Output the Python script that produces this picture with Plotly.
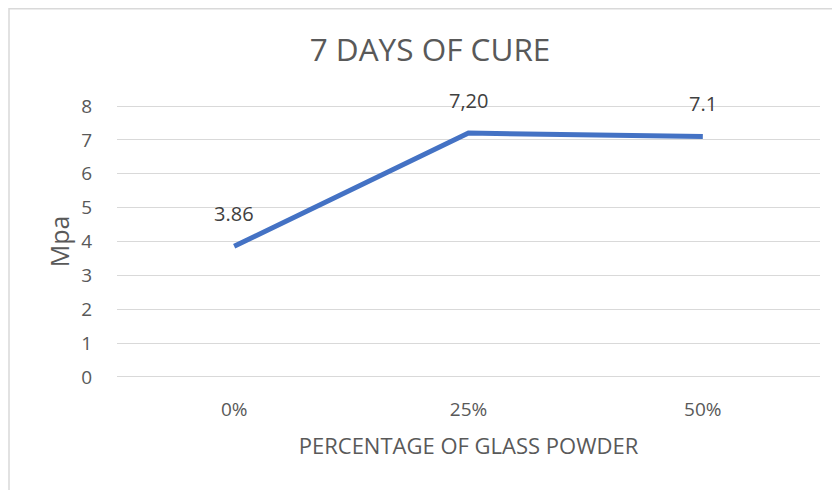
import plotly.graph_objects as go

categories = ["0%", "25%", "50%"]
values = [3.86, 7.20, 7.1]
value_labels = ["3.86", "7,20", "7.1"]
y_ticks = [0, 1, 2, 3, 4, 5, 6, 7, 8]

# the page body adds an 8px offset; figure coords = page coords - 8
W, H = 840, 490
L, R, T, B = 109, 28, 97, 120
pw, ph = W - L - R, H - T - B
FONT = "Open Sans, sans-serif"

def px_x(p):
    return (p - L) / pw

def px_y(p):
    return (H - B - p) / ph

fig = go.Figure()
fig.add_trace(go.Scatter(
    x=categories, y=values, mode="lines",
    line=dict(color="#4472C4", width=5),
    hoverinfo="skip", showlegend=False,
))

for c, v, t in zip(categories, values, value_labels):
    fig.add_annotation(x=c, y=v, text=t, showarrow=False, yshift=33,
                       font=dict(size=20, color="#404040", family=FONT))

# chart border (left and top visible)
fig.add_shape(type="rect", xref="paper", yref="paper",
              x0=px_x(1), x1=px_x(880), y0=px_y(530), y1=px_y(0.8),
              line=dict(color="#d9d9d9", width=1.5), layer="below")

fig.update_layout(
    width=W, height=H,
    margin=dict(l=L, r=R, t=T, b=B, autoexpand=False),
    paper_bgcolor="white", plot_bgcolor="white",
    title=dict(text="7 DAYS OF CURE", x=422 / W, xref="container", xanchor="center",
               y=1 - 42 / H, yref="container", yanchor="middle",
               font=dict(size=31.5, color="#595959", family=FONT)),
    font=dict(family=FONT, color="#595959", size=19),
    xaxis=dict(
        type="category", range=[-0.5, 2.5], showgrid=False, zeroline=False, showline=False,
        ticks="", tickfont=dict(size=19, color="#595959"), automargin=False,
        ticklabelstandoff=18,
        title=dict(text="PERCENTAGE OF GLASS POWDER", font=dict(size=22, color="#595959"), standoff=17),
    ),
    yaxis=dict(
        range=[-0.03, 8.03], tickvals=y_ticks, showgrid=True, gridcolor="#d9d9d9", gridwidth=1.3,
        zeroline=False, showline=False, ticks="", ticklabelstandoff=24, automargin=False,
        tickfont=dict(size=19, color="#595959"),
        title=dict(text="Mpa", font=dict(size=25, color="#595959"), standoff=4),
    ),
)

fig.write_html("out.html")
